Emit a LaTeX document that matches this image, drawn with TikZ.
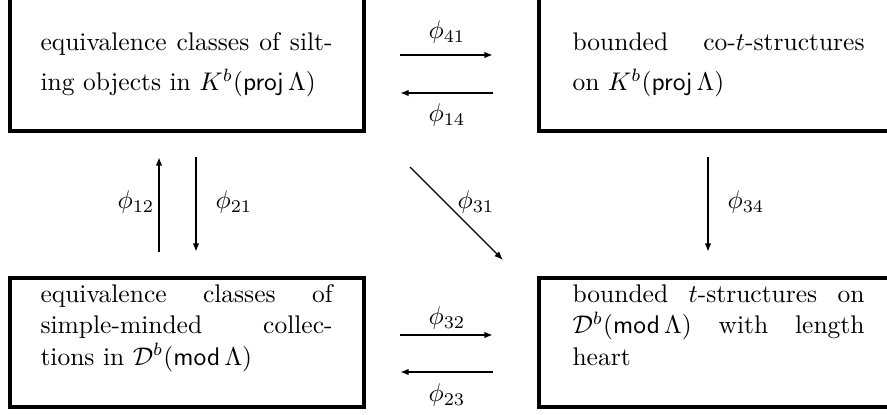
\documentclass[tikz,border=0pt]{standalone}
\usetikzlibrary{arrows.meta}
\newlength\tw
\setlength\tw{114.5pt}
\begin{document}
\begin{tikzpicture}[x=0.392pt,y=-0.392pt,
  boxframe/.style={draw,line width=1.2pt},
  boxtext/.style={anchor=base west,inner sep=0pt,align=left},
  arr/.style={line width=0.8pt,-{Latex[length=3.4pt,width=2.6pt]}},
  thinarr/.style={line width=0.45pt,-{Latex[length=3.4pt,width=2.6pt]}},
  lab/.style={inner sep=0pt}]
\clip (0,0) rectangle (887,414);
% boxes
\draw[boxframe] (10,-20) rectangle (364,131);
\draw[boxframe] (539,-20) rectangle (910,131);
\draw[boxframe] (10,278) rectangle (364,407);
\draw[boxframe] (539,278) rectangle (910,407);
% texts (anchored at the baseline of the last line)
\node[boxtext] (t1) at (40,91) {\makebox[\tw][s]{equivalence classes of silt-}\\[4pt]ing objects in $K^b(\mathsf{proj}\,\Lambda)$};
\node[boxtext] (t4) at (572,91) {\makebox[\tw][s]{bounded co-$t$-structures}\\[4pt]on $K^b(\mathsf{proj}\,\Lambda)$};
\node[boxtext] (t2) at (40,365) {\makebox[\tw][s]{equivalence classes of}\\[0.3pt]\makebox[\tw][s]{simple-minded collec-}\\[0.3pt]tions in $\mathcal{D}^b(\mathsf{mod}\,\Lambda)$};
\node[boxtext] (t3) at (572,365) {\makebox[\tw][s]{bounded $t$-structures on}\\[0.3pt]\makebox[\tw][s]{$\mathcal{D}^b(\mathsf{mod}\,\Lambda)$ with length}\\[0.3pt]heart};
% arrow endpoints
\coordinate (a41s) at (400,55);  \coordinate (a41e) at (493,55);
\coordinate (a14s) at (493,93);  \coordinate (a14e) at (400,93);
\coordinate (a32s) at (400,335); \coordinate (a32e) at (493,335);
\coordinate (a23s) at (493,372); \coordinate (a23e) at (400,372);
\coordinate (a12s) at (159,252); \coordinate (a12e) at (159,157);
\coordinate (a21s) at (196,157); \coordinate (a21e) at (196,252);
\coordinate (a34s) at (708,157); \coordinate (a34e) at (708,252);
\coordinate (a31s) at (410,167); \coordinate (a31e) at (503,260);
\draw[arr] (a41s) -- (a41e);
\draw[arr] (a14s) -- (a14e);
\draw[arr] (a32s) -- (a32e);
\draw[arr] (a23s) -- (a23e);
\draw[arr] (a12s) -- (a12e);
\draw[arr] (a21s) -- (a21e);
\draw[arr] (a34s) -- (a34e);
\draw[thinarr] (a31s) -- (a31e);
% labels
\node[lab] (l41) at (447,32) {$\phi_{41}$};
\node[lab] (l14) at (447,115) {$\phi_{14}$};
\node[lab] (l32) at (447,318) {$\phi_{32}$};
\node[lab] (l23) at (447,395) {$\phi_{23}$};
\node[lab] (l12) at (136,202) {$\phi_{12}$};
\node[lab] (l21) at (234,202) {$\phi_{21}$};
\node[lab] (l31) at (476,202) {$\phi_{31}$};
\node[lab] (l34) at (746,202) {$\phi_{34}$};
\end{tikzpicture}
\end{document}
